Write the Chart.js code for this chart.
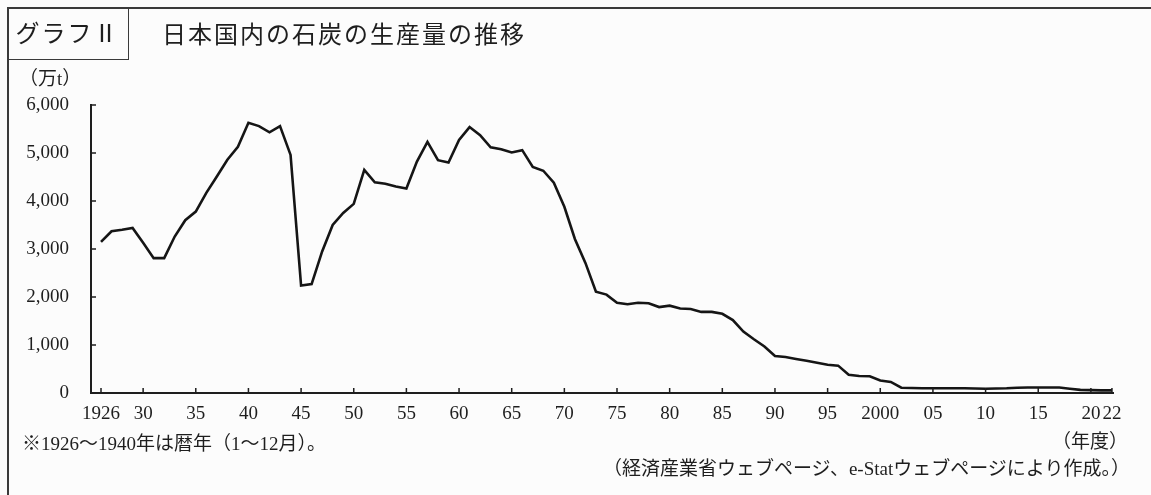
<!DOCTYPE html>
<html lang="ja">
<head>
<meta charset="utf-8">
<script src="https://cdn.jsdelivr.net/npm/chart.js@4.4.1/dist/chart.umd.min.js"></script>
<style>
  html, body { margin: 0; padding: 0; }
  body {
    width: 1151px; height: 495px; overflow: hidden; position: relative;
    background: #fcfcfc; color: #1e1e1e;
    font-family: "Liberation Serif", "Noto Sans CJK JP", serif;
  }
  #myChart { position: absolute; left: 0; top: 0; }
  .frame {
    position: absolute; left: 7px; top: 7px; width: 1150px; height: 500px;
    border-top: 2px solid #3a3a3a; border-left: 2px solid #3a3a3a;
  }
  .badge {
    position: absolute; left: 7px; top: 7px; width: 121px; height: 52px;
    border-right: 1.5px solid #3a3a3a; border-bottom: 1.5px solid #3a3a3a;
    font-size: 24px; line-height: 54px; text-align: center; letter-spacing: 2px;
  }
  .txt { position: absolute; white-space: nowrap; line-height: 24px; }
</style>
</head>
<body>
<canvas id="myChart" width="1151" height="495"></canvas>
<div class="frame"></div>
<div class="badge">グラフⅡ</div>
<div class="txt" style="left:162px; top:21px; font-size:24px; line-height:28px; letter-spacing:2px;">日本国内の石炭の生産量の推移</div>
<div class="txt" style="left:19px; top:67px; font-size:19px;">（万t）</div>
<div class="txt" style="left:22px; top:432px; font-size:19px;">※1926～1940年は暦年（1～12月）。</div>
<div class="txt" style="right:23px; top:430px; font-size:19px;">（年度）</div>
<div class="txt" style="right:21px; top:457px; font-size:19px;">（経済産業省ウェブページ、e-Statウェブページにより作成。）</div>

<script>
// 年度
const years = Array.from({ length: 2022 - 1926 + 1 }, (_, i) => 1926 + i);

// 石炭の生産量（万t） 1926〜2022
const production = [
    3150, 3370, 3400, 3440,
    3130, 2810, 2810, 3260, 3600, 3780, 4170, 4510, 4860, 5130,
    5630, 5560, 5430, 5560, 4960, 2240, 2270, 2950, 3500, 3750,
    3940, 4650, 4390, 4360, 4300, 4260, 4820, 5230, 4850, 4800,
    5270, 5540, 5370, 5120, 5080, 5010, 5060, 4710, 4630, 4380,
    3880, 3210, 2710, 2110, 2050, 1880, 1850, 1880, 1870, 1790,
    1820, 1760, 1750, 1690, 1690, 1650, 1520, 1280, 1120, 970,
    770, 750, 710, 670, 630, 590, 570, 380, 355, 350,
    260, 230, 110, 105, 100, 100, 100, 100, 100, 95,
    90, 95, 100, 110, 115, 115, 115, 115, 90, 65,
    60, 55, 55
];

// 目盛り
const tickYears = [1926, 1930, 1935, 1940, 1945, 1950, 1955, 1960, 1965, 1970, 1975,
    1980, 1985, 1990, 1995, 2000, 2005, 2010, 2015, 2020, 2022];
const tickLabels = ['1926', '30', '35', '40', '45', '50', '55', '60', '65', '70', '75',
    '80', '85', '90', '95', '2000', '05', '10', '15', '20', '22'];
const yTicks = [0, 1000, 2000, 3000, 4000, 5000, 6000];

const ink = '#1e1e1e';
const tickFont = { family: '"Liberation Serif", serif', size: 19 };

// 内向きの目盛り線
const innerTicks = {
    id: 'innerTicks',
    afterDraw(chart) {
        const { ctx, chartArea, scales: { x, y } } = chart;
        ctx.save();
        ctx.strokeStyle = ink;
        ctx.lineWidth = 1.5;
        ctx.beginPath();
        x.ticks.forEach((t) => {
            const px = x.getPixelForValue(t.value);
            ctx.moveTo(px, chartArea.bottom);
            ctx.lineTo(px, chartArea.bottom - 5);
        });
        y.ticks.forEach((t) => {
            const py = y.getPixelForValue(t.value);
            ctx.moveTo(chartArea.left, py);
            ctx.lineTo(chartArea.left + 5, py);
        });
        ctx.stroke();
        ctx.restore();
    }
};

new Chart(document.getElementById('myChart').getContext('2d'), {
    type: 'line',
    data: {
        labels: years,
        datasets: [{
            label: '石炭の生産量',
            data: years.map((yr, i) => ({ x: yr, y: production[i] })),
            borderColor: '#151515',
            borderWidth: 2.6,
            pointRadius: 0,
            tension: 0,
            fill: false
        }]
    },
    options: {
        responsive: false,
        animation: false,
        devicePixelRatio: 1,
        layout: { padding: { left: 0, right: 38, top: 105, bottom: 0 } },
        plugins: { legend: { display: false }, tooltip: { enabled: false } },
        scales: {
            x: {
                type: 'linear',
                min: 1925.05,
                max: 2022.1,
                grid: { display: false, drawTicks: false },
                border: { display: true, color: ink, width: 2 },
                afterBuildTicks: (scale) => { scale.ticks = tickYears.map(v => ({ value: v })); },
                afterFit: (scale) => { scale.height = 102; },
                ticks: {
                    autoSkip: false,
                    maxRotation: 0,
                    padding: 10,
                    color: ink,
                    font: tickFont,
                    callback: (value) => tickLabels[tickYears.indexOf(value)]
                }
            },
            y: {
                min: 0,
                max: 6000,
                grid: { display: false, drawTicks: false },
                border: { display: true, color: ink, width: 2 },
                afterBuildTicks: (scale) => { scale.ticks = yTicks.map(v => ({ value: v })); },
                afterFit: (scale) => { scale.width = 91; },
                ticks: {
                    padding: 22,
                    color: ink,
                    font: tickFont,
                    callback: (value) => value.toLocaleString('en-US')
                }
            }
        }
    },
    plugins: [innerTicks]
});
</script>
</body>
</html>
